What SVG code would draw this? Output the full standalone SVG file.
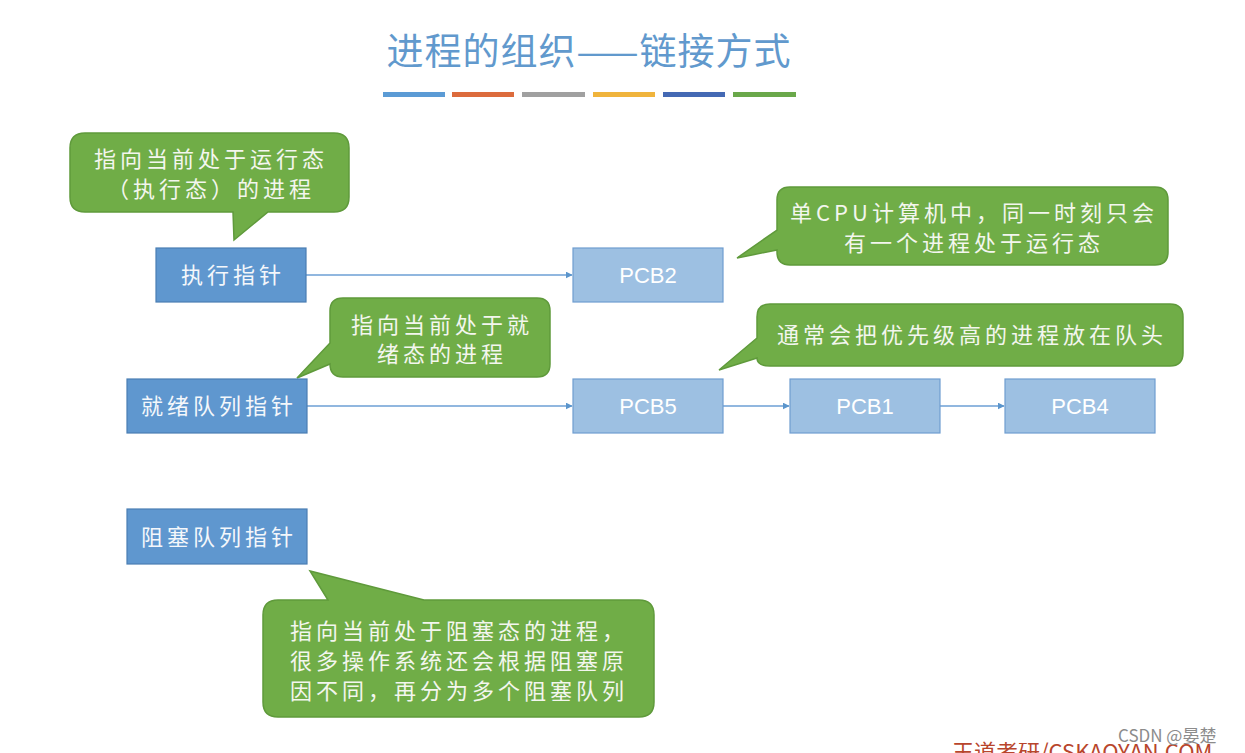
<svg xmlns="http://www.w3.org/2000/svg" width="1245" height="753" viewBox="0 0 1245 753">
<style>
.cjk{font-family:"Noto Sans CJK SC","Noto Sans CJK JP",sans-serif;}
.title{font-size:37px;fill:#6199cd;letter-spacing:1px;}
.bub{fill:#70ad47;stroke:#5f9a3b;stroke-width:1.5;}
.bt{font-size:22px;fill:#f3f6ee;letter-spacing:4px;}
.ptr{fill:#5f97cf;stroke:#4a7eb3;stroke-width:1.2;}
.pcb{fill:#9dc0e2;stroke:#6f9dd0;stroke-width:1.2;}
.nt{font-size:22px;fill:#f4f7fb;letter-spacing:4px;}
.pt{font-family:"Liberation Sans",Arial,sans-serif;font-size:22px;fill:#ffffff;}
.conn{stroke:#6d9fd4;stroke-width:1.3;fill:none;}
</style>
<defs>
<marker id="arr" viewBox="0 0 10 10" refX="9" refY="5" markerWidth="7" markerHeight="7" orient="auto" markerUnits="userSpaceOnUse">
<path d="M0,0 L10,5 L0,10 Z" fill="#5b95cc"/>
</marker>
</defs>
<rect width="1245" height="753" fill="#ffffff"/>

<g id="title">
<text class="cjk title" x="589" y="65" text-anchor="middle">进程的组织——链接方式</text>
<rect x="383" y="92" width="62" height="5" fill="#5b9bd5"/>
<rect x="452" y="92" width="62" height="5" fill="#dc6b3c"/>
<rect x="522" y="92" width="63" height="5" fill="#a0a0a0"/>
<rect x="593" y="92" width="62" height="5" fill="#f0b43c"/>
<rect x="663" y="92" width="62" height="5" fill="#4469b4"/>
<rect x="733" y="92" width="63" height="5" fill="#6aa84a"/>
</g>

<g id="connectors">
<line class="conn" x1="306" y1="275" x2="572" y2="275" marker-end="url(#arr)"/>
<line class="conn" x1="307" y1="406" x2="572" y2="406" marker-end="url(#arr)"/>
<line class="conn" x1="723" y1="406" x2="789" y2="406" marker-end="url(#arr)"/>
<line class="conn" x1="940" y1="406" x2="1004" y2="406" marker-end="url(#arr)"/>
</g>

<g id="bubble-running">
<path class="bub" d="M85,133 H334 Q349,133 349,148 V197 Q349,212 334,212 H268 L234,240 L233,212 H85 Q70,212 70,197 V148 Q70,133 85,133 Z"/>
<text class="cjk bt" x="211" y="167" text-anchor="middle">指向当前处于运行态</text>
<text class="cjk bt" x="211" y="197" text-anchor="middle">（执行态）的进程</text>
</g>

<g id="exec-ptr">
<rect class="ptr" x="156" y="248" width="150" height="54"/>
<text class="cjk nt" x="233" y="283" text-anchor="middle">执行指针</text>
</g>

<g id="pcb2">
<rect class="pcb" x="573" y="248" width="150" height="54"/>
<text class="pt" x="648" y="283" text-anchor="middle">PCB2</text>
</g>

<g id="bubble-cpu">
<path class="bub" d="M790,187 H1155 Q1168,187 1168,200 V252 Q1168,265 1155,265 H790 Q777,265 777,252 V250 L737,258 L777,230 V200 Q777,187 790,187 Z"/>
<text class="cjk bt" x="974" y="221" text-anchor="middle">单CPU计算机中，同一时刻只会</text>
<text class="cjk bt" x="974" y="251" text-anchor="middle">有一个进程处于运行态</text>
</g>

<g id="bubble-ready">
<path class="bub" d="M343,298 H537 Q550,298 550,311 V364 Q550,377 537,377 H343 Q330,377 330,364 L297,378 L330,343 V311 Q330,298 343,298 Z"/>
<text class="cjk bt" x="442" y="333" text-anchor="middle">指向当前处于就</text>
<text class="cjk bt" x="442" y="362" text-anchor="middle">绪态的进程</text>
</g>

<g id="bubble-priority">
<path class="bub" d="M770,304 H1170 Q1183,304 1183,317 V353 Q1183,366 1170,366 H770 Q757,366 757,358 L719,370 L757,338 V317 Q757,304 770,304 Z"/>
<text class="cjk bt" x="972" y="343" text-anchor="middle">通常会把优先级高的进程放在队头</text>
</g>

<g id="ready-ptr">
<rect class="ptr" x="127" y="379" width="180" height="54"/>
<text class="cjk nt" x="219" y="414" text-anchor="middle">就绪队列指针</text>
</g>

<g id="pcb5">
<rect class="pcb" x="573" y="379" width="150" height="54"/>
<text class="pt" x="648" y="414" text-anchor="middle">PCB5</text>
</g>

<g id="pcb1">
<rect class="pcb" x="790" y="379" width="150" height="54"/>
<text class="pt" x="865" y="414" text-anchor="middle">PCB1</text>
</g>

<g id="pcb4">
<rect class="pcb" x="1005" y="379" width="150" height="54"/>
<text class="pt" x="1080" y="414" text-anchor="middle">PCB4</text>
</g>

<g id="blocked-ptr">
<rect class="ptr" x="127" y="509" width="180" height="55"/>
<text class="cjk nt" x="219" y="545" text-anchor="middle">阻塞队列指针</text>
</g>

<g id="bubble-blocked">
<path class="bub" d="M278,600 H328 L310,571 L424,600 H639 Q654,600 654,615 V702 Q654,717 639,717 H278 Q263,717 263,702 V615 Q263,600 278,600 Z"/>
<text class="cjk bt" x="290" y="639">指向当前处于阻塞态的进程，</text>
<text class="cjk bt" x="290" y="669">很多操作系统还会根据阻塞原</text>
<text class="cjk bt" x="290" y="699">因不同，再分为多个阻塞队列</text>
</g>

<g id="watermark">
<text class="cjk" x="952" y="760" font-size="22" fill="#b8452c">王道考研/CSKAOYAN.COM</text>
<text class="cjk" x="1118" y="742" font-size="17" fill="#8c8c8c">CSDN @晏楚</text>
</g>
</svg>
